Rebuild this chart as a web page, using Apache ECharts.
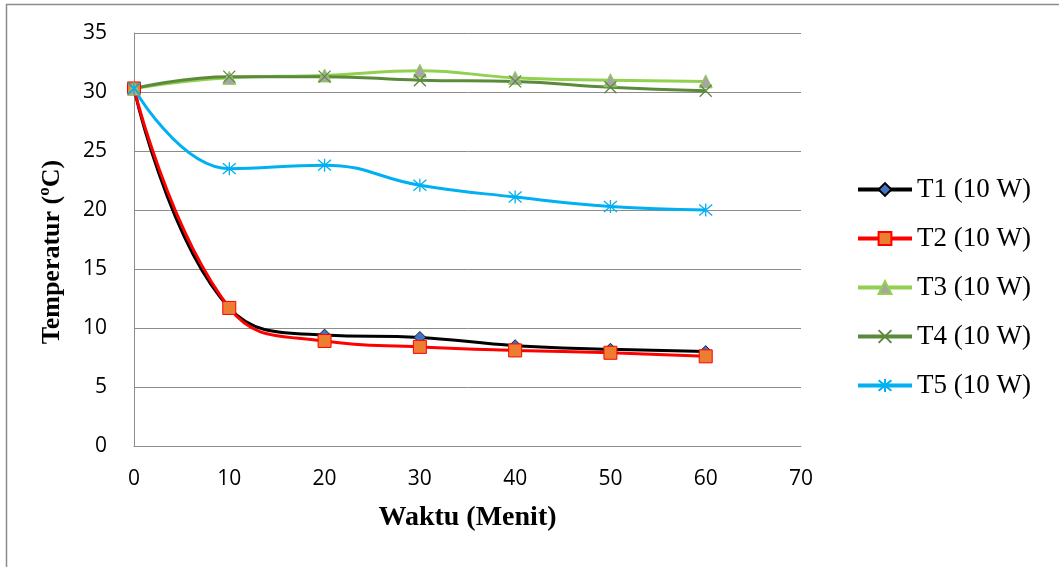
<!DOCTYPE html>
<html>
<head>
<meta charset="utf-8">
<script src="https://cdn.jsdelivr.net/npm/echarts@6/dist/echarts.min.js"></script>
<style>
html,body{margin:0;padding:0;background:#fff;}
#c{width:1059px;height:567px;}
</style>
</head>
<body>
<div id="c"></div>
<script>
var xValues = [0, 10, 20, 30, 40, 50, 60];
var seriesNames = ['T1 (10 W)', 'T2 (10 W)', 'T3 (10 W)', 'T4 (10 W)', 'T5 (10 W)'];
var t1 = [30.3, 11.7, 9.4, 9.2, 8.5, 8.2, 8.0];
var t2 = [30.3, 11.7, 8.9, 8.4, 8.1, 7.9, 7.6];
var t3 = [30.3, 31.2, 31.4, 31.8, 31.2, 31.0, 30.9];
var t4 = [30.3, 31.3, 31.3, 31.0, 30.9, 30.4, 30.1];
var t5 = [30.3, 23.5, 23.8, 22.1, 21.1, 20.3, 20.0];
var yTicks = [0, 5, 10, 15, 20, 25, 30, 35];
var xTicks = [0, 10, 20, 30, 40, 50, 60, 70];
var xTitle = 'Waktu (Menit)';
var yTitle = 'Temperatur (ºC)';

function pairs(arr) { return xValues.map(function (x, i) { return [x, arr[i]]; }); }

var crossPath = 'path://M0,0 L10,10 M10,0 L0,10';
var starPath = 'path://M0,0 L10,10 M10,0 L0,10 M5,-1 L5,11';

var SM = 0.45;
var option = {
  animation: false,
  backgroundColor: '#fff',
  grid: { left: 134, right: 258, top: 33, bottom: 121, containLabel: false },
  xAxis: {
    type: 'value', min: 0, max: 70, interval: 10,
    name: xTitle, nameLocation: 'middle', nameGap: 58,
    nameTextStyle: { fontFamily: 'Liberation Serif', fontWeight: 'bold', fontSize: 28, color: '#000' },
    axisLine: { show: true, lineStyle: { color: '#8c8c8c', width: 1 } },
    axisTick: { show: false },
    splitLine: { show: false },
    axisLabel: { margin: 23, fontFamily: 'Open Sans', fontSize: 21, color: '#000',
      formatter: function (v) { return xTicks.indexOf(v) >= 0 ? String(v) : ''; } }
  },
  yAxis: {
    type: 'value', min: 0, max: 35, interval: 5,
    axisLine: { show: true, lineStyle: { color: '#8c8c8c', width: 1 } },
    axisTick: { show: false },
    splitLine: { show: true, lineStyle: { color: '#8c8c8c', width: 1 } },
    axisLabel: { margin: 27, fontFamily: 'Open Sans', fontSize: 21, color: '#000',
      formatter: function (v) { return yTicks.indexOf(v) >= 0 ? String(v) : ''; } }
  },
  legend: {
    orient: 'vertical', left: 851, top: 171, itemWidth: 54, itemHeight: 16, itemGap: 22,
    lineStyle: { width: 4 },
    textStyle: { fontFamily: 'Liberation Serif', fontSize: 27, color: '#000' },
    data: seriesNames
  },
  series: [
    { name: seriesNames[0], type: 'line', data: pairs(t1), smooth: SM,
      lineStyle: { color: '#000', width: 3 }, symbol: 'diamond', symbolSize: 12,
      itemStyle: { color: '#4472c4', borderColor: '#000', borderWidth: 0.8 } },
    { name: seriesNames[1], type: 'line', data: pairs(t2), smooth: SM,
      lineStyle: { color: '#ff0000', width: 3 }, symbol: 'rect', symbolSize: 13,
      itemStyle: { color: '#ed7d31', borderColor: '#ff0000', borderWidth: 1 } },
    { name: seriesNames[2], type: 'line', data: pairs(t3), smooth: SM,
      lineStyle: { color: '#92d050', width: 3 }, symbol: 'triangle', symbolSize: 13,
      itemStyle: { color: '#a5a5a5', borderColor: '#92d050', borderWidth: 1 } },
    { name: seriesNames[3], type: 'line', data: pairs(t4), smooth: SM,
      lineStyle: { color: '#5b8a3b', width: 3 }, symbol: crossPath, symbolSize: 12,
      itemStyle: { color: 'rgba(0,0,0,0)', borderColor: '#5b8a3b', borderWidth: 1.3 } },
    { name: seriesNames[4], type: 'line', data: pairs(t5), smooth: SM,
      lineStyle: { color: '#00b0f0', width: 3 }, symbol: starPath, symbolSize: 13,
      itemStyle: { color: 'rgba(0,0,0,0)', borderColor: '#00b0f0', borderWidth: 1.3 } }
  ],
  graphic: [
    { type: 'line', shape: { x1: 6, y1: 4.5, x2: 1059, y2: 4.5 }, style: { stroke: '#8c8c8c', lineWidth: 1.5 } },
    { type: 'line', shape: { x1: 6.5, y1: 4, x2: 6.5, y2: 567 }, style: { stroke: '#8c8c8c', lineWidth: 1.5 } },
    { type: 'text', x: 52, y: 252, rotation: Math.PI / 2,
      style: { text: yTitle, fontFamily: 'Liberation Serif', fontWeight: 'bold', fontSize: 26, fill: '#000',
        align: 'center', verticalAlign: 'middle' } }
  ]
};
var chart = echarts.init(document.getElementById('c'), null, { renderer: 'canvas' });
chart.setOption(option);
</script>
</body>
</html>
